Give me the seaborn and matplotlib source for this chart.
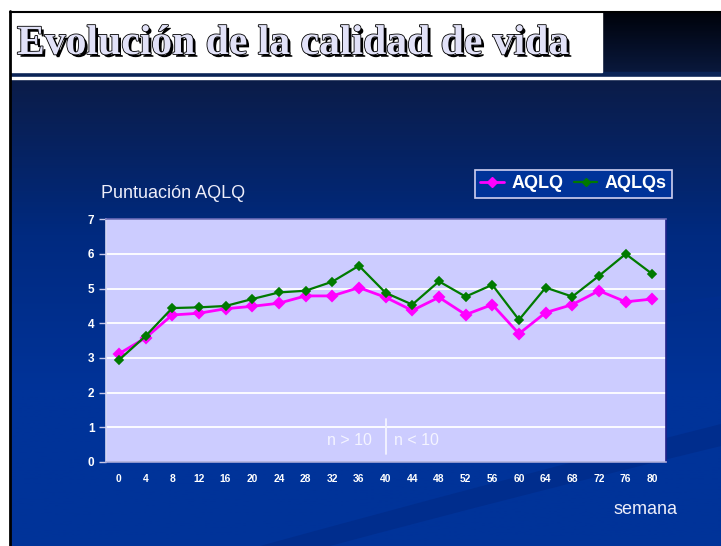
import matplotlib
matplotlib.use("Agg")
import matplotlib.pyplot as plt
import matplotlib.patheffects as pe
from matplotlib.colors import LinearSegmentedColormap
from matplotlib.lines import Line2D
from matplotlib.patches import Rectangle, PathPatch
from matplotlib.path import Path
import numpy as np
import pandas as pd
import seaborn as sns

# Data
semanas = [0, 4, 8, 12, 16, 20, 24, 28, 32, 36, 40, 44, 48, 52, 56, 60, 64, 68, 72, 76, 80]
aqlq = [3.12, 3.58, 4.24, 4.29, 4.42, 4.49, 4.58, 4.79, 4.79, 5.03, 4.75,
        4.37, 4.75, 4.25, 4.54, 3.70, 4.31, 4.54, 4.94, 4.62, 4.70]
aqlqs = [2.94, 3.63, 4.44, 4.46, 4.50, 4.70, 4.89, 4.94, 5.20, 5.66, 4.88,
         4.54, 5.21, 4.77, 5.11, 4.10, 5.03, 4.77, 5.37, 6.00, 5.42]
y_ticks = [0, 1, 2, 3, 4, 5, 6, 7]
corte_semana = 40  # n > 10 | n < 10

df = pd.DataFrame({"semana": semanas, "AQLQ": aqlq, "AQLQs": aqlqs})

sns.set_theme(style="white")
plt.rcParams["font.family"] = ["Liberation Sans", "DejaVu Sans"]

W, H = 721, 546
fig = plt.figure(figsize=(W / 100, H / 100), dpi=100)

# ---- slide background (pixel coordinates) ----
bg = fig.add_axes([0, 0, 1, 1])
bg.set_xlim(0, W)
bg.set_ylim(H, 0)
bg.axis("off")
bg.add_patch(Rectangle((0, 0), W, H, color="white", zorder=0))

main_cmap = LinearSegmentedColormap.from_list("slide", ["#0b1c48", "#002a80", "#003399", "#003399"])
grad = np.linspace(0, 1, 256).reshape(-1, 1)
bg.imshow(grad, cmap=main_cmap, extent=(11, W, H, 79), aspect="auto", zorder=1)

top_cmap = LinearSegmentedColormap.from_list("top", ["#00020a", "#0a1a40"])
bg.imshow(grad, cmap=top_cmap, extent=(11, W, 76, 12), aspect="auto", zorder=1)

# swooshes
band = Path([(330, H), (520, 495), (W, 446), (W, 424), (500, 480), (260, H), (330, H)],
            [Path.MOVETO, Path.CURVE3, Path.CURVE3, Path.LINETO, Path.CURVE3, Path.CURVE3, Path.CLOSEPOLY])
bg.add_patch(PathPatch(band, facecolor="#002d8d", edgecolor="none", zorder=2))
band2 = Path([(560, 345), (640, 320), (W, 308), (W, 296), (640, 306), (560, 330), (560, 345)],
             [Path.MOVETO, Path.CURVE3, Path.CURVE3, Path.LINETO, Path.CURVE3, Path.CURVE3, Path.CLOSEPOLY])
bg.add_patch(PathPatch(band2, facecolor="#002d8d", edgecolor="none", zorder=2))

bg.add_patch(Rectangle((11, 72), W - 11, 4, color="#0b2456", zorder=3))
bg.add_patch(Rectangle((11, 76.5), W - 11, 2.5, color="white", zorder=3))
bg.add_patch(Rectangle((11, 12), 591, 60, color="white", zorder=3))
bg.plot([9.5, 9.5], [11, H], color="black", lw=2, zorder=4)
bg.plot([9.5, W], [11.5, 11.5], color="black", lw=1.5, zorder=4)

fig.text(17 / W, 1 - 54 / H, "Evolución de la calidad de vida",
         family=["Liberation Serif", "DejaVu Serif"], fontweight="bold", fontsize=30,
         color="#e2e2f8", va="baseline", ha="left",
         path_effects=[pe.withSimplePatchShadow(offset=(2, -2), shadow_rgbFace="black", alpha=1),
                       pe.Stroke(linewidth=1.2, foreground="black"), pe.Normal()])

# ---- chart ----
x0, x1, y0, y1 = 105.5, 665.7, 219.3, 462
ax = fig.add_axes([x0 / W, 1 - y1 / H, (x1 - x0) / W, (y1 - y0) / H])
ax.set_facecolor("#ccccff")

sns.pointplot(data=df, x="semana", y="AQLQ", color="#ff00ff", markers="D",
              markersize=5.2, linewidth=2.0, errorbar=None, ax=ax, zorder=3)
sns.pointplot(data=df, x="semana", y="AQLQs", color="#007a00", markers="D",
              markersize=4.3, linewidth=1.6, errorbar=None, ax=ax, zorder=4)

ax.set_xlim(-0.5, len(semanas) - 0.5)
ax.set_ylim(0, 7)
ax.set_yticks(y_ticks)
ax.set_xlabel("")
ax.set_ylabel("")
ax.set_axisbelow(True)
ax.yaxis.grid(True, color="white", lw=1.3)
ax.xaxis.grid(False)

ax.set_xticks(np.arange(-0.5, len(semanas), 1), minor=True)
ax.tick_params(axis="x", which="major", length=0, pad=9, labelsize=7.4, labelcolor="white")
ax.tick_params(axis="x", which="minor", length=4, width=1, color="#c8c8e8", direction="out")
ax.tick_params(axis="y", which="major", length=5, width=1, color="#c8c8e8", direction="out",
               pad=3, labelsize=8.5, labelcolor="white")
ax.tick_params(bottom=True, left=True)
for lab in ax.get_xticklabels() + ax.get_yticklabels():
    lab.set_fontweight("bold")

ax.spines["left"].set_color("#d8d8f4")
ax.spines["bottom"].set_color("#a8a8d8")
ax.spines["top"].set_color("#6a6ab8")
ax.spines["right"].set_color("#222288")
for s in ax.spines.values():
    s.set_linewidth(1.2)

# n > 10 | n < 10 divider
ci = semanas.index(corte_semana)
ax.plot([ci, ci], [0.24, 1.25], color="#f4f4ff", lw=1.3, zorder=5)
ax.text(ci - 0.5, 0.62, "n > 10", ha="right", va="center", fontsize=11.5, color="#f4f4ff")
ax.text(ci + 0.3, 0.62, "n < 10", ha="left", va="center", fontsize=11.5, color="#f4f4ff")

fig.text(101 / W, 1 - 193 / H, "Puntuación AQLQ", ha="left", va="center",
         fontsize=13, color="#eeeefa")
fig.text(646 / W, 1 - 509 / H, "semana", ha="center", va="center",
         fontsize=13, color="#eeeefa")

handles = [
    Line2D([], [], color="#ff00ff", marker="D", markersize=5.2, lw=2.0, label="AQLQ"),
    Line2D([], [], color="#007a00", marker="D", markersize=4.3, lw=1.6, label="AQLQs"),
]
leg = fig.legend(handles=handles, loc="upper right", bbox_to_anchor=(672 / W, 1 - 170 / H),
                 ncol=2, frameon=True, fancybox=False, facecolor="#003399",
                 edgecolor="#d0d0f0", framealpha=1, handlelength=1.3, handletextpad=0.4,
                 columnspacing=0.6, borderpad=0.3, borderaxespad=0,
                 prop={"weight": "bold", "size": 13})
for t in leg.get_texts():
    t.set_color("white")
leg.get_frame().set_linewidth(1.2)

fig.savefig("out.png", dpi=100)
